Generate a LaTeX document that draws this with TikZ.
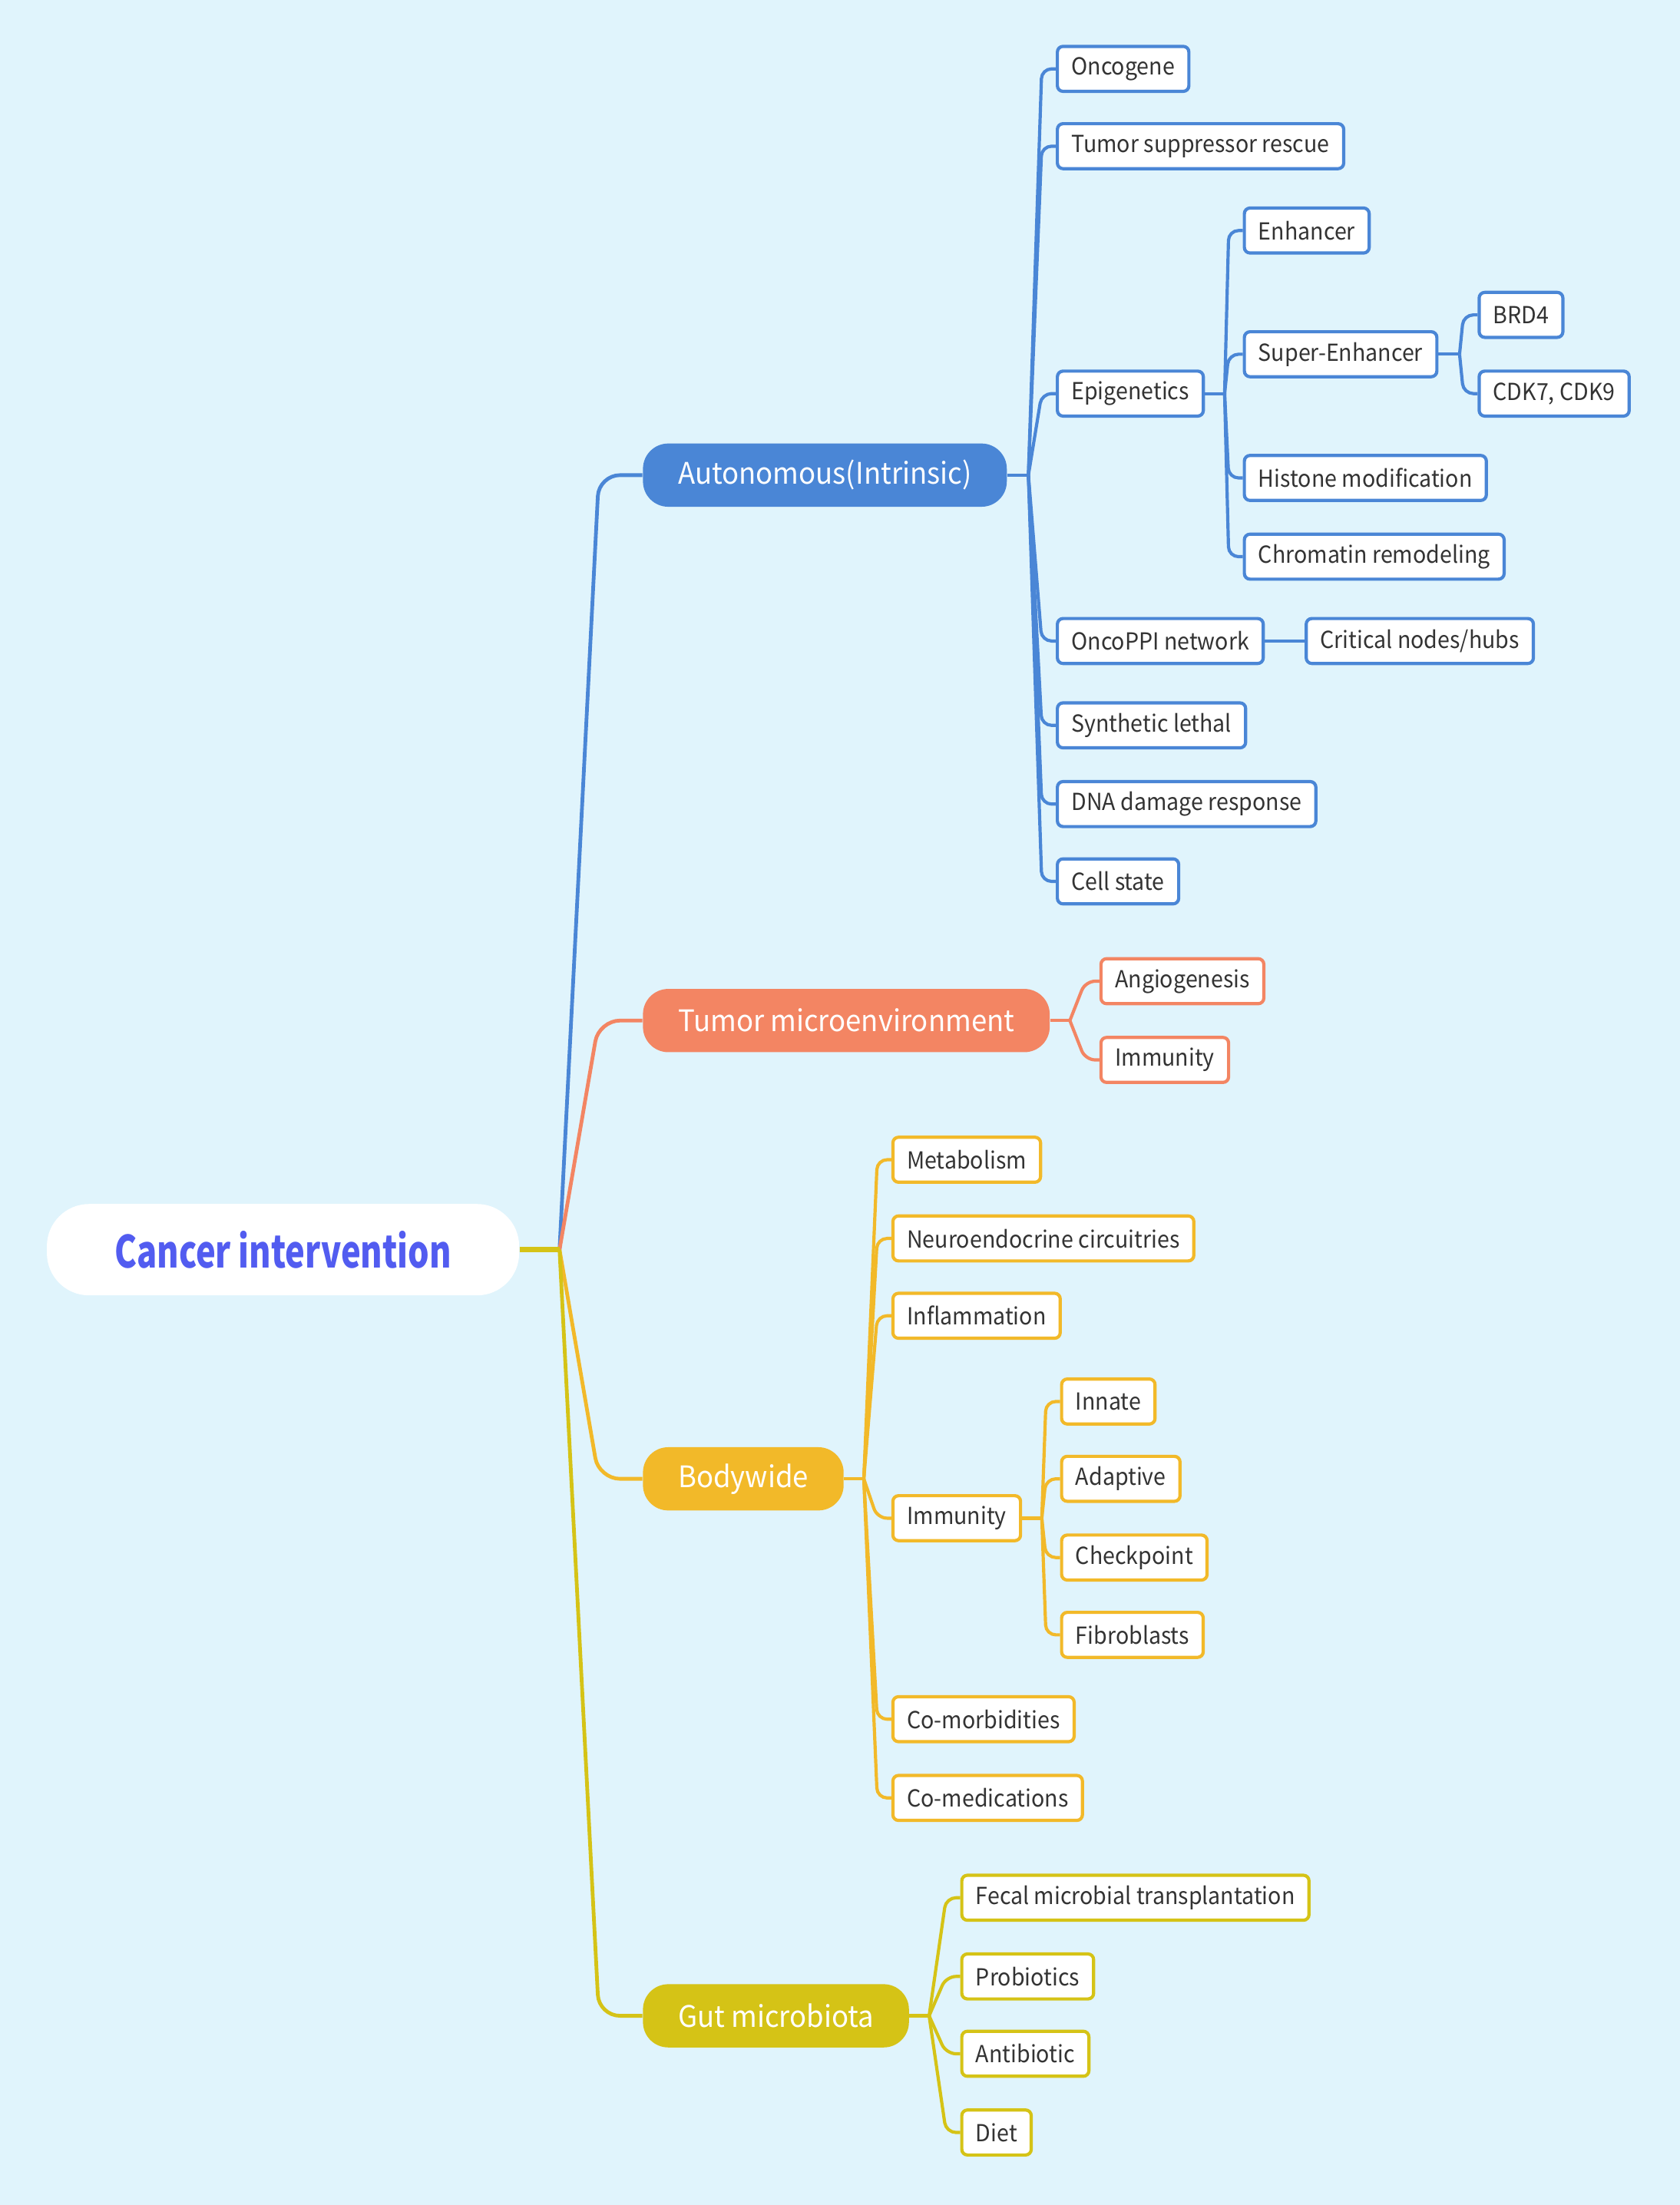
\documentclass[tikz,border=0pt]{standalone}
\usepackage{fontspec}
\setmainfont{Noto Sans CJK SC}
\newfontfamily\leaffont{Noto Sans CJK SC}[FakeStretch=0.935]
\newfontfamily\topicfont{Noto Sans CJK SC}[FakeStretch=0.945]
\newfontfamily\rootfont{Noto Sans CJK SC}[FakeStretch=0.75]
\usetikzlibrary{positioning}
\definecolor{bgblue}{HTML}{E0F4FC}
\definecolor{cblue}{HTML}{4A86D6}
\definecolor{csalmon}{HTML}{F38563}
\definecolor{cyellow}{HTML}{F2B929}
\definecolor{colive}{HTML}{D5C316}
\definecolor{rootblue}{HTML}{525CF0}
\definecolor{txt}{HTML}{333333}
\tikzset{
    root/.style = {fill=white, text=rootblue, font=\rootfont\bfseries\fontsize{18}{21}\selectfont,
        rounded corners=0.6cm, minimum height=1.3cm, minimum width=6.72cm, anchor=west},
    topic/.style = {fill=#1, text=white, font=\topicfont\fontsize{12}{14}\selectfont,
        rounded corners=0.36cm, minimum height=0.9cm, inner xsep=0.5cm, anchor=west},
    leaf/.style = {draw=#1, fill=white, text=txt, font=\leaffont\fontsize{9.5}{11}\selectfont,
        line width=1.3pt, rounded corners=0.08cm, minimum height=0.64cm, inner xsep=0.2cm, anchor=west},
    stem/.style = {draw=#1, line width=1.5pt, rounded corners=0.3cm},
    link/.style = {draw=#1, line width=1.3pt, rounded corners=0.14cm}
}
\newcommand\fan[3]{\draw[link=#1] (#2) -- ([xshift=-0.2cm]#3.west) -- (#3.west);}
\newcommand\limb[3]{\draw[stem=#1] (#2) -- ([xshift=-0.62cm]#3.west) -- (#3.west);}

\begin{document}
\begin{tikzpicture}[x=0.02cm, y=-0.02cm]
    \fill[bgblue] (0,0) rectangle (1195,1568.6);
    \useasboundingbox (0,0) rectangle (1195,1568.6);

    \node[root] (root) at (33,889) {Cancer intervention};
    \coordinate (rootJ) at (398,889);

    \node[topic=cblue] (auto) at (457,338) {Autonomous(Intrinsic)};
    \node[topic=csalmon] (tme) at (457,726) {Tumor microenvironment};
    \node[topic=cyellow] (body) at (457,1052) {Bodywide};
    \node[topic=colive] (gut) at (457,1434) {Gut microbiota};

    \node[leaf=cblue] (onco) at (751,49) {Oncogene};
    \node[leaf=cblue] (tsr) at (751,104) {Tumor suppressor rescue};
    \node[leaf=cblue] (epi) at (751,280) {Epigenetics};
    \node[leaf=cblue] (ppi) at (751,456) {OncoPPI network};
    \node[leaf=cblue] (synl) at (751,516) {Synthetic lethal};
    \node[leaf=cblue] (dna) at (751,572) {DNA damage response};
    \node[leaf=cblue] (cell) at (751,627) {Cell state};

    \node[leaf=cblue] (enh) at (884,164) {Enhancer};
    \node[leaf=cblue] (senh) at (884,252) {Super-Enhancer};
    \node[leaf=cblue] (hist) at (884,340) {Histone modification};
    \node[leaf=cblue] (chrom) at (884,396) {Chromatin remodeling};

    \node[leaf=cblue] (brd) at (1051,224) {BRD4};
    \node[leaf=cblue] (cdk) at (1051,280) {CDK7, CDK9};

    \node[leaf=cblue] (hubs) at (928,456) {Critical nodes/hubs};

    \node[leaf=csalmon] (angio) at (782,698) {Angiogenesis};
    \node[leaf=csalmon] (timm) at (782,754) {Immunity};

    \node[leaf=cyellow] (meta) at (634,825) {Metabolism};
    \node[leaf=cyellow] (neuro) at (634,881) {Neuroendocrine circuitries};
    \node[leaf=cyellow] (infl) at (634,936) {Inflammation};
    \node[leaf=cyellow] (bimm) at (634,1080) {Immunity};
    \node[leaf=cyellow] (comor) at (634,1223) {Co-morbidities};
    \node[leaf=cyellow] (comed) at (634,1279) {Co-medications};

    \node[leaf=cyellow] (innate) at (754,997) {Innate};
    \node[leaf=cyellow] (adapt) at (754,1052) {Adaptive};
    \node[leaf=cyellow] (check) at (754,1108) {Checkpoint};
    \node[leaf=cyellow] (fibro) at (754,1163) {Fibroblasts};

    \node[leaf=colive] (fmt) at (683,1350) {Fecal microbial transplantation};
    \node[leaf=colive] (probio) at (683,1406) {Probiotics};
    \node[leaf=colive] (antib) at (683,1461) {Antibiotic};
    \node[leaf=colive] (diet) at (683,1517) {Diet};

    \limb{cblue}{rootJ}{auto}
    \limb{csalmon}{rootJ}{tme}
    \limb{cyellow}{rootJ}{body}
    \limb{colive}{rootJ}{gut}
    \draw[colive, line width=2.2pt] (root.east) -- (rootJ);

    \draw[link=cblue] (auto.east) -- ++(0.3cm,0) coordinate (autoJ);
    \fan{cblue}{autoJ}{onco}
    \fan{cblue}{autoJ}{tsr}
    \fan{cblue}{autoJ}{epi}
    \fan{cblue}{autoJ}{ppi}
    \fan{cblue}{autoJ}{synl}
    \fan{cblue}{autoJ}{dna}
    \fan{cblue}{autoJ}{cell}

    \draw[link=cblue] (epi.east) -- ++(0.28cm,0) coordinate (epiJ);
    \fan{cblue}{epiJ}{enh}
    \fan{cblue}{epiJ}{senh}
    \fan{cblue}{epiJ}{hist}
    \fan{cblue}{epiJ}{chrom}

    \draw[link=cblue] (senh.east) -- ++(0.3cm,0) coordinate (senhJ);
    \fan{cblue}{senhJ}{brd}
    \fan{cblue}{senhJ}{cdk}

    \draw[link=cblue] (ppi) -- (hubs);

    \draw[link=csalmon] (tme.east) -- ++(0.28cm,0) coordinate (tmeJ);
    \fan{csalmon}{tmeJ}{angio}
    \fan{csalmon}{tmeJ}{timm}

    \draw[link=cyellow] (body.east) -- ++(0.28cm,0) coordinate (bodyJ);
    \fan{cyellow}{bodyJ}{meta}
    \fan{cyellow}{bodyJ}{neuro}
    \fan{cyellow}{bodyJ}{infl}
    \fan{cyellow}{bodyJ}{bimm}
    \fan{cyellow}{bodyJ}{comor}
    \fan{cyellow}{bodyJ}{comed}

    \draw[link=cyellow] (bimm.east) -- ++(0.28cm,0) coordinate (bimmJ);
    \fan{cyellow}{bimmJ}{innate}
    \fan{cyellow}{bimmJ}{adapt}
    \fan{cyellow}{bimmJ}{check}
    \fan{cyellow}{bimmJ}{fibro}

    \draw[link=colive] (gut.east) -- ++(0.28cm,0) coordinate (gutJ);
    \fan{colive}{gutJ}{fmt}
    \fan{colive}{gutJ}{probio}
    \fan{colive}{gutJ}{antib}
    \fan{colive}{gutJ}{diet}

\end{tikzpicture}
\end{document}
